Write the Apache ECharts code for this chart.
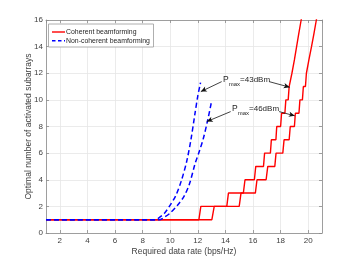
<!DOCTYPE html>
<html><head><meta charset="utf-8">
<script src="https://cdn.jsdelivr.net/npm/echarts@6/dist/echarts.min.js"></script>
<style>html,body{margin:0;padding:0;background:#fff}#c{width:356px;height:262px}</style>
</head><body><div id="c"></div>
<script>
// Coherent beamforming: rate where each +1 step starts / ends (levels 1->2, 2->3, ...)
const coh43RiseStart = [12.08,14.10,15.30,16.10,16.76,17.26,17.66,18.00,18.31,18.55,18.75,18.93,19.09,19.25,19.42,19.58];
const coh43RiseEnd   = [12.22,14.22,15.42,16.20,16.84,17.33,17.72,18.07,18.38,18.62,18.82,19.00,19.16,19.32,19.49,19.65];
const coh46RiseStart = [13.02,15.00,16.17,16.95,17.58,18.16,18.62,19.00,19.33,19.58,19.80,19.98,20.17,20.35,20.52,20.68];
const coh46RiseEnd   = [13.19,15.13,16.29,17.07,17.67,18.25,18.70,19.07,19.40,19.65,19.87,20.05,20.24,20.42,20.59,20.75];
const cohStartLevel = 1;
const rateMin = 1;
// Non-coherent beamforming
const nonCoh43Rate = [1, 8.9, 9.2, 9.6, 10.0, 10.4, 10.8, 11.2, 11.5, 11.8, 12.0, 12.2];
const nonCoh43Sub  = [1, 1, 1.15, 1.5, 2.1, 2.8, 3.9, 5.4, 7.0, 9.0, 10.3, 11.3];
const nonCoh46Rate = [1, 9.2, 9.6, 10.0, 10.5, 11.0, 11.4, 11.8, 12.1, 12.4, 12.7, 13.0];
const nonCoh46Sub  = [1, 1, 1.2, 1.5, 2.05, 2.75, 3.7, 5.2, 6.1, 7.1, 8.4, 9.9];
const legendNames = ['Coherent beamforming', 'Non-coherent beamforming'];
// Annotations [x, y] in data units
const ann43Text = [13.83, 11.5], ann43ArrowBlue = [[13.73, 11.37], [12.22, 10.62]], ann43ArrowRed = [[17.17, 11.37], [18.66, 10.95]];
const ann46Text = [14.48, 9.32], ann46ArrowBlue = [[14.38, 9.12], [12.65, 8.37]], ann46ArrowRed = [[17.89, 9.12], [19.03, 8.80]];

function stairs(starts, ends) {
  const pts = [[rateMin, cohStartLevel]];
  for (let i = 0; i < starts.length; i++) {
    pts.push([starts[i], cohStartLevel + i]);
    pts.push([ends[i], cohStartLevel + i + 1]);
  }
  return pts;
}
function zip(a, b) { return a.map((v, i) => [v, b[i]]); }

const font = 'Liberation Sans';
const axisCol = '#8a8a8a', labelCol = '#404040', gridCol = '#e6e6e6';
const red = '#ff0000', blue = '#0000ff', dash = [5, 3];
function arrowLine(seg) {
  return [{ coord: seg[0], symbol: 'none' }, { coord: seg[1], symbol: 'arrow' }];
}
const markArrows = (segs) => ({
  silent: true, animation: false, symbolSize: [4, 6],
  lineStyle: { color: '#111', width: 0.8, type: 'solid' },
  label: { show: false }, emphasis: { disabled: true },
  data: segs.map(arrowLine)
});

const chart = echarts.init(document.getElementById('c'), null, { renderer: 'canvas' });
const xBase = { type: 'value', min: 1, max: 21, splitNumber: 10 };
const yBase = { type: 'value', min: 0, max: 16, interval: 2 };
const boxLine = { show: true, onZero: false, lineStyle: { color: axisCol, width: 0.8 } };
const inTick = { show: true, inside: true, length: 3, lineStyle: { color: axisCol, width: 0.8 } };
chart.setOption({
  animation: false,
  backgroundColor: '#fff',
  textStyle: { fontFamily: font },
  grid: { left: 46, right: 34, top: 20, bottom: 29 },
  xAxis: [
    Object.assign({}, xBase, {
      position: 'bottom',
      name: 'Required data rate (bps/Hz)', nameLocation: 'middle', nameGap: 14, nameMoveOverlap: false,
      nameTextStyle: { fontSize: 8.5, color: labelCol, fontFamily: font },
      axisLine: boxLine, axisTick: inTick,
      axisLabel: { fontSize: 8, color: labelCol, margin: 4, showMinLabel: false, showMaxLabel: false, fontFamily: font },
      splitLine: { show: true, lineStyle: { color: gridCol, width: 0.8 } }
    }),
    Object.assign({}, xBase, {
      position: 'top', axisLine: boxLine, axisTick: inTick,
      axisLabel: { show: false }, splitLine: { show: false }
    })
  ],
  yAxis: [
    Object.assign({}, yBase, {
      position: 'left',
      name: 'Optimal number of activated subarrays', nameLocation: 'middle', nameGap: 13, nameMoveOverlap: false,
      nameTextStyle: { fontSize: 8.5, color: labelCol, fontFamily: font },
      axisLine: boxLine, axisTick: inTick,
      axisLabel: { fontSize: 8, color: labelCol, margin: 3, fontFamily: font },
      splitLine: { show: true, lineStyle: { color: gridCol, width: 0.8 } }
    }),
    Object.assign({}, yBase, {
      position: 'right', axisLine: boxLine, axisTick: inTick,
      axisLabel: { show: false }, splitLine: { show: false }
    })
  ],
  series: [
    { name: legendNames[0], type: 'line', data: stairs(coh43RiseStart, coh43RiseEnd),
      symbol: 'none', clip: true, color: red, lineStyle: { color: red, width: 1.4 },
      markLine: markArrows([ann43ArrowBlue, ann43ArrowRed]), z: 3 },
    { name: legendNames[0], type: 'line', data: stairs(coh46RiseStart, coh46RiseEnd),
      symbol: 'none', clip: true, color: red, lineStyle: { color: red, width: 1.4 },
      markLine: markArrows([ann46ArrowBlue, ann46ArrowRed]), z: 3 },
    { name: legendNames[1], type: 'line', data: zip(nonCoh43Rate, nonCoh43Sub), smooth: 0.3,
      symbol: 'none', clip: true, color: blue, lineStyle: { color: blue, width: 1.5, type: dash }, z: 4 },
    { name: legendNames[1], type: 'line', data: zip(nonCoh46Rate, nonCoh46Sub), smooth: 0.3,
      symbol: 'none', clip: true, color: blue, lineStyle: { color: blue, width: 1.5, type: dash }, z: 4 }
  ]
});

function label(pos, txt) {
  const p = chart.convertToPixel({ gridIndex: 0 }, pos);
  return {
    type: 'text', x: p[0], y: p[1], silent: true, z: 10,
    style: {
      text: '{p|P}{s|max}{t|' + txt + '}',
      verticalAlign: 'middle', align: 'left',
      rich: {
        p: { fontSize: 8.5, fontFamily: font, fill: '#262626', lineHeight: 14, verticalAlign: 'middle' },
        s: { fontSize: 6, fontFamily: font, fill: '#262626', lineHeight: 14, verticalAlign: 'bottom' },
        t: { fontSize: 8, fontFamily: font, fill: '#262626', lineHeight: 14, verticalAlign: 'middle' }
      }
    }
  };
}
// legend box (MATLAB style)
const lg = { x: 48, y: 23.5, w: 105, h: 23, rowY: [32, 40.7], lx0: 52, lx1: 65, tx: 66 };
const legendGraphic = [
  { type: 'rect', silent: true, z: 20, shape: { x: lg.x + 0.5, y: lg.y + 0.5, width: lg.w, height: lg.h },
    style: { fill: '#fff', stroke: '#9a9a9a', lineWidth: 0.8 } },
  { type: 'line', silent: true, z: 21, shape: { x1: lg.lx0, y1: lg.rowY[0], x2: lg.lx1, y2: lg.rowY[0] },
    style: { stroke: red, lineWidth: 1.4 } },
  { type: 'line', silent: true, z: 21, shape: { x1: lg.lx0, y1: lg.rowY[1], x2: lg.lx1, y2: lg.rowY[1] },
    style: { stroke: blue, lineWidth: 1.5, lineDash: [3.5, 2.5] } },
  { type: 'text', silent: true, z: 21, x: lg.tx, y: lg.rowY[0],
    style: { text: legendNames[0], fontSize: 6.9, fontFamily: font, fill: '#262626', verticalAlign: 'middle' } },
  { type: 'text', silent: true, z: 21, x: lg.tx, y: lg.rowY[1],
    style: { text: legendNames[1], fontSize: 6.9, fontFamily: font, fill: '#262626', verticalAlign: 'middle' } }
];
chart.setOption({ graphic: [label(ann43Text, '=43dBm'), label(ann46Text, '=46dBm')].concat(legendGraphic) });
</script></body></html>
